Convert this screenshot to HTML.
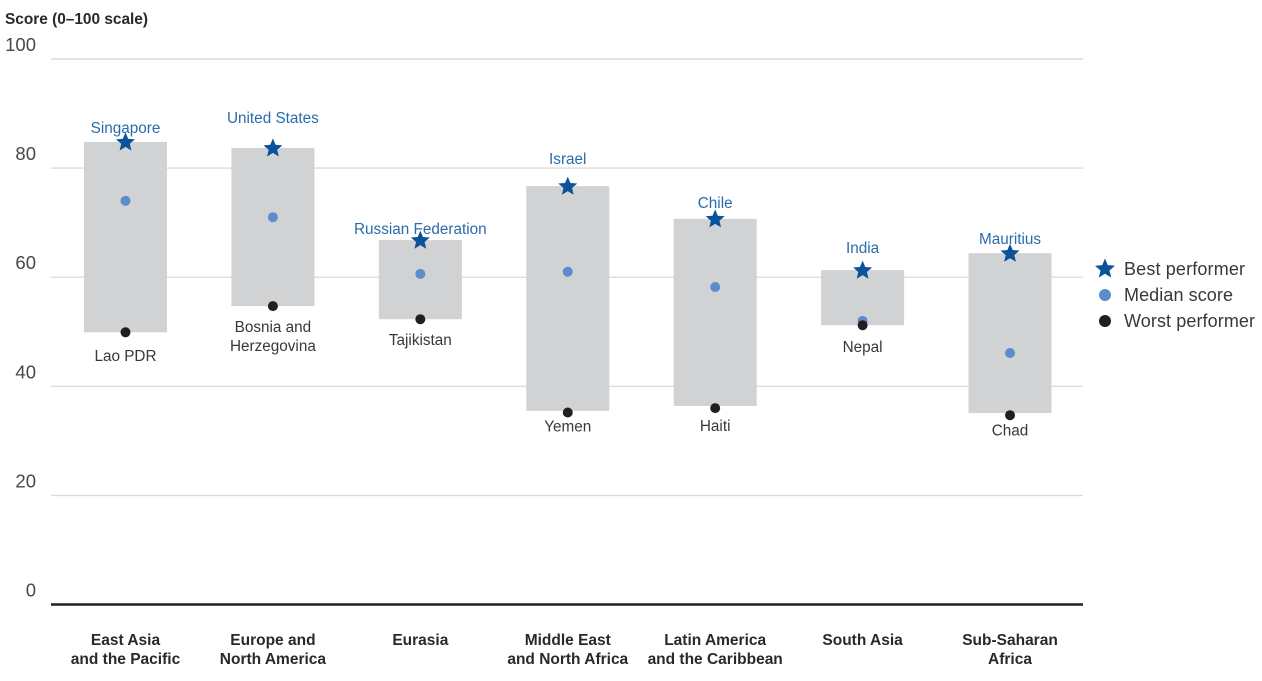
<!DOCTYPE html>
<html lang="en">
<head>
<meta charset="utf-8">
<title>Score by region</title>
<style>
html,body{margin:0;padding:0;background:#fff;width:1262px;height:681px;overflow:hidden}
svg{display:block;font-family:"Liberation Sans",Arial,sans-serif}
</style>
</head>
<body>
<svg id="chart" xmlns="http://www.w3.org/2000/svg" width="1262" height="681" viewBox="0 0 1262 681">
  <text x="5" y="24" font-size="15.4" font-weight="bold" fill="#2b2829" textLength="143" lengthAdjust="spacingAndGlyphs">Score (0–100 scale)</text>
  <g id="grid"></g>
  <g id="bars"></g>
  <g id="marks"></g>
  <g id="labels"></g>
  <g>
    <g>
      <polygon id="legendStar" fill="#0a5299"></polygon>
      <text x="1124" y="275" font-size="18" fill="#3a3738" textLength="121">Best performer</text>
    </g>
    <g>
      <circle cx="1105" cy="295" r="6" fill="#5b8ccb"></circle>
      <text x="1124" y="301" font-size="18" fill="#3a3738" textLength="109">Median score</text>
    </g>
    <g>
      <circle cx="1105" cy="321" r="6" fill="#231f20"></circle>
      <text x="1124" y="327" font-size="18" fill="#3a3738" textLength="131">Worst performer</text>
    </g>
  </g>
</svg>
<script>
const categories = [
  ["East Asia", "and the Pacific"],
  ["Europe and", "North America"],
  ["Eurasia"],
  ["Middle East", "and North Africa"],
  ["Latin America", "and the Caribbean"],
  ["South Asia"],
  ["Sub-Saharan", "Africa"]
];
const bestNames = ["Singapore", "United States", "Russian Federation", "Israel", "Chile", "India", "Mauritius"];
const worstNames = [["Lao PDR"], ["Bosnia and", "Herzegovina"], ["Tajikistan"], ["Yemen"], ["Haiti"], ["Nepal"], ["Chad"]];
const bestValues = [84.8, 83.7, 66.8, 76.7, 70.7, 61.3, 64.4];
const medianValues = [74.0, 71.0, 60.6, 61.0, 58.2, 52.0, 46.1];
const worstValues = [49.9, 54.7, 52.3, 35.2, 36.0, 51.2, 34.7];
const rangeLowValues = [49.9, 54.7, 52.3, 35.5, 36.4, 51.2, 35.1];
const tickValues = [0, 20, 40, 60, 80, 100];

// label nudges relative to the mark they annotate (layout only, not data)
const bestLabelGap = [9, 25, 6, 22, 11, 17, 9];
const worstLabelGap = [28.5, 26, 26, 19, 23, 27, 20.5];

const NS = "http://www.w3.org/2000/svg";
const yZero = 604.5, yPerUnit = 5.455;
const xStart = 125.5, xStep = 147.42, barWidth = 83;
function yScale(v) { return yZero - v * yPerUnit; }
function xScale(i) { return xStart + i * xStep; }

function make(tag, attrs, parent, content) {
  const el = document.createElementNS(NS, tag);
  for (const k in attrs) el.setAttribute(k, attrs[k]);
  if (content !== undefined) el.textContent = content;
  parent.appendChild(el);
  return el;
}
function starPoints(cx, cy, R) {
  const r = R * 0.45, pts = [];
  for (let i = 0; i < 10; i++) {
    const a = -Math.PI / 2 + i * Math.PI / 5, rad = i % 2 ? r : R;
    pts.push((cx + rad * Math.cos(a)).toFixed(2) + "," + (cy + rad * Math.sin(a)).toFixed(2));
  }
  return pts.join(" ");
}

const grid = document.getElementById("grid");
const bars = document.getElementById("bars");
const marks = document.getElementById("marks");
const labels = document.getElementById("labels");

tickValues.forEach(function (t) {
  const y = yScale(t);
  const line = make("line", {
    x1: 51, x2: 1083, y1: y, y2: y,
    stroke: t === 0 ? "#231f20" : "#dcdcdc",
    "stroke-width": t === 0 ? 2.4 : 1.4
  }, grid);
  
  
  const tick = make("text", {
    x: 36, y: y - 8, "text-anchor": "end", "font-size": 18.5, fill: "#4a4748"
  }, grid, String(t));
  
  
});

categories.forEach(function (cat, i) {
  const x = xScale(i);
  const top = yScale(bestValues[i]), bottom = yScale(rangeLowValues[i]);
  const worstY = yScale(worstValues[i]);

  const bar = make("rect", {
    x: x - barWidth / 2, y: top, width: barWidth, height: bottom - top, fill: "#d1d2d4"
  }, bars);
  
  

  const bestText = make("text", {
    x: x, y: top - bestLabelGap[i], "text-anchor": "middle", "font-size": 15.3, fill: "#2a6cab"
  }, labels, bestNames[i]);
  
  

  const median = make("circle", {
    cx: x, cy: yScale(medianValues[i]), r: 5, fill: "#5b8ccb"
  }, marks);
  
  

  const worst = make("circle", {
    cx: x, cy: worstY, r: 5, fill: "#231f20"
  }, marks);
  
  

  const star = make("polygon", {
    points: starPoints(x, top + 0.5, 10), fill: "#0a5299"
  }, marks);
  
  

  worstNames[i].forEach(function (line, j) {
    const worstText = make("text", {
      x: x, y: worstY + worstLabelGap[i] + j * 19, "text-anchor": "middle", "font-size": 15.3, fill: "#3a3738"
    }, labels, line);
    
    
  });

  cat.forEach(function (line, j) {
    const catText = make("text", {
      x: x, y: 645 + j * 19, "text-anchor": "middle", "font-size": 15.5, "font-weight": "bold", fill: "#2b2829"
    }, labels, line);
    
    
  });
});

document.getElementById("legendStar").setAttribute("points", starPoints(1105, 269, 10.5));
</script>
</body>
</html>
